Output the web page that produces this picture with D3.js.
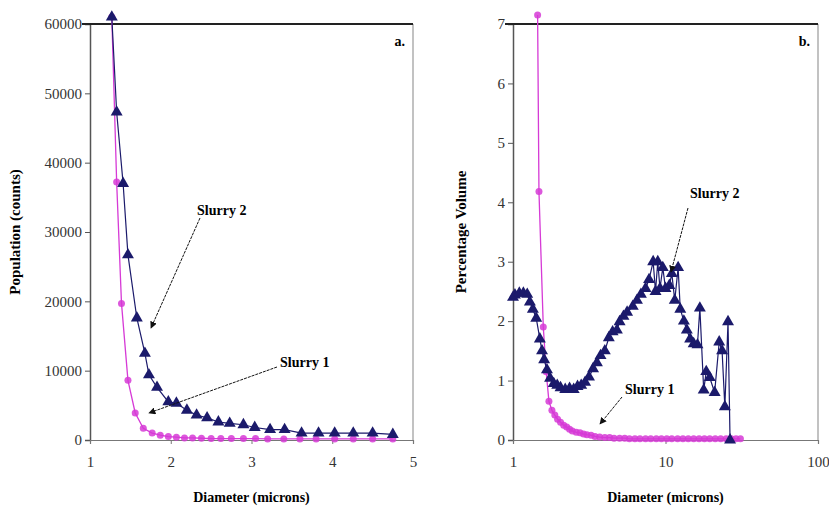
<!DOCTYPE html>
<html>
<head>
<meta charset="utf-8">
<script src="https://cdn.jsdelivr.net/npm/d3@7"></script>
<style>
  body { margin: 0; background: #fff; }
  text { font-family: "Liberation Serif", "DejaVu Serif", serif; }
</style>
</head>
<body>
<div id="chart-area"></div>
<script>
// panel a: population counts vs diameter (linear)
const popSlurry2X = [1.27, 1.33, 1.41, 1.47, 1.58, 1.68, 1.73, 1.83, 1.97, 2.07, 2.2, 2.32, 2.45, 2.59, 2.73, 2.9, 3.04, 3.23, 3.41, 3.62, 3.83, 4.03, 4.26, 4.5, 4.75]
const popSlurry2Y = [61000, 47300, 37000, 26700, 17600, 12500, 9400, 7600, 5500, 5300, 4300, 3600, 3200, 2600, 2400, 2200, 1800, 1500, 1500, 1000, 1000, 1000, 1000, 1000, 800]
const popSlurry1X = [1.27, 1.33, 1.39, 1.47, 1.56, 1.66, 1.77, 1.87, 1.97, 2.07, 2.17, 2.27, 2.38, 2.5, 2.62, 2.75, 2.9, 3.05, 3.2, 3.4, 3.6, 3.8, 4.03, 4.26, 4.5, 4.75]
const popSlurry1Y = [61000, 37200, 19700, 8600, 3900, 1700, 1000, 700, 500, 400, 300, 300, 250, 200, 200, 200, 200, 200, 150, 150, 150, 150, 150, 150, 150, 150]
const popTicksY = [0, 10000, 20000, 30000, 40000, 50000, 60000]
const popTicksX = [1, 2, 3, 4, 5]

// panel b: percentage volume vs diameter (log)
const volSlurry2X = [1.0, 1.03, 1.1, 1.17, 1.24, 1.29, 1.35, 1.42, 1.5, 1.55, 1.6, 1.67, 1.75, 1.85, 1.95, 2.05, 2.2, 2.35, 2.5, 2.65, 2.8, 2.97, 3.15, 3.35, 3.55, 3.75, 4.0, 4.25, 4.5, 4.8, 5.0, 5.3, 5.6, 6.1, 6.5, 6.9, 7.4, 7.8, 8.3, 8.6, 8.9, 9.2, 9.6, 10.0, 10.6, 11.0, 11.5, 12.1, 12.5, 13.2, 13.8, 14.5, 15.3, 16.2, 16.8, 17.8, 18.5, 19.5, 21, 22.5, 23.5, 24.5, 25.7, 26.5]
const volSlurry2Y = [2.4, 2.44, 2.47, 2.47, 2.45, 2.32, 2.2, 2.05, 1.7, 1.5, 1.35, 1.18, 1.04, 0.95, 0.92, 0.88, 0.85, 0.87, 0.85, 0.9, 0.92, 0.97, 1.06, 1.2, 1.3, 1.42, 1.5, 1.72, 1.82, 1.85, 1.99, 2.08, 2.15, 2.25, 2.35, 2.45, 2.55, 2.7, 3.0, 2.5, 3.0, 2.55, 2.9, 2.55, 2.6, 2.8, 2.35, 2.9, 2.2, 2.0, 1.85, 1.7, 1.62, 1.6, 2.22, 0.84, 1.15, 1.05, 0.8, 1.65, 1.5, 0.56, 1.99, 0.0]
const volSlurry1X = [1.45, 1.48, 1.58, 1.65, 1.72, 1.8, 1.88, 1.96, 2.05, 2.15, 2.25, 2.35, 2.45, 2.6, 2.75, 2.9, 3.05, 3.25, 3.45, 3.7, 4.0, 4.3, 4.6, 5.0, 5.4, 5.8, 6.3, 6.8, 7.4, 8.0, 8.7, 9.4, 10.2, 11, 12, 13, 14.1, 15.3, 16.6, 18, 19.5, 21.2, 23, 25, 27, 29, 31]
const volSlurry1Y = [7.15, 4.18, 1.9, 1.15, 0.65, 0.5, 0.42, 0.35, 0.3, 0.25, 0.22, 0.18, 0.15, 0.13, 0.12, 0.1, 0.09, 0.08, 0.06, 0.05, 0.04, 0.04, 0.03, 0.03, 0.03, 0.02, 0.02, 0.02, 0.02, 0.02, 0.02, 0.02, 0.02, 0.02, 0.02, 0.02, 0.02, 0.02, 0.02, 0.02, 0.02, 0.02, 0.02, 0.02, 0.02, 0.02, 0.02]
const volTicksY = [0, 1, 2, 3, 4, 5, 6, 7]
const volTicksX = [1, 10, 100]

const NAVY = "#1b1a6b"
const PINK = "#d63ad6"

const svg = d3.select("#chart-area").append("svg")
  .attr("width", 829)
  .attr("height", 507)

// arrow head for the callouts
svg.append("defs").append("marker")
  .attr("id", "arrow")
  .attr("viewBox", "0 0 10 10")
  .attr("refX", 9).attr("refY", 5)
  .attr("markerWidth", 7).attr("markerHeight", 7)
  .attr("orient", "auto")
  .append("path")
  .attr("d", "M0,0 L10,5 L0,10 z")
  .attr("fill", "#111")

function zip(xs, ys) {
  return xs.map((x, i) => ({x: x, y: ys[i]}))
}

function drawPanel(opt) {
  const g = svg.append("g")
  const x = opt.x, y = opt.y
  const [x0, x1] = x.range()
  const [yb, yt] = y.range()

  // frame: right border, top line
  g.append("line")
    .attr("x1", x1).attr("x2", x1).attr("y1", yt).attr("y2", yb)
    .attr("stroke", "#999").attr("stroke-width", 1.2)

  // y axis
  const yAxis = g.append("g")
    .attr("transform", `translate(${x0},0)`)
    .call(d3.axisLeft(y).tickValues(opt.yTicks).tickSize(5).tickPadding(3).tickFormat(d3.format("d")))
  yAxis.select(".domain").attr("stroke", "#555").attr("stroke-width", 1.5)
  yAxis.selectAll(".tick line").attr("stroke", "#555")
  yAxis.selectAll("text").attr("font-size", "15px").attr("fill", "#333")

  // x axis
  const xAxis = g.append("g")
    .attr("transform", `translate(0,${yb})`)
    .call(d3.axisBottom(x).tickValues(opt.xTicks).tickSize(4).tickPadding(12).tickFormat(d3.format("d")))
  xAxis.select(".domain").attr("stroke", "#777").attr("stroke-width", 1.2)
  xAxis.selectAll(".tick line").attr("stroke", "#777")
  xAxis.selectAll("text").attr("font-size", "15px").attr("fill", "#333")

  g.append("line")
    .attr("x1", x0 - 8).attr("x2", x1).attr("y1", yt).attr("y2", yt)
    .attr("stroke", "#222").attr("stroke-width", 2.2)

  const line = d3.line().x(d => x(d.x)).y(d => y(d.y))

  // slurry 1 (magenta circles)
  const s1 = zip(opt.s1x, opt.s1y)
  g.append("path").datum(s1)
    .attr("d", line).attr("fill", "none")
    .attr("stroke", PINK).attr("stroke-width", 1.3)
  g.selectAll(".s1").data(s1).enter().append("circle")
    .attr("cx", d => x(d.x)).attr("cy", d => y(d.y))
    .attr("r", 3.5).attr("fill", PINK).attr("opacity", 0.85)

  // slurry 2 (navy triangles)
  const s2 = zip(opt.s2x, opt.s2y)
  g.append("path").datum(s2)
    .attr("d", line).attr("fill", "none")
    .attr("stroke", NAVY).attr("stroke-width", 1.2)
  g.selectAll(".s2").data(s2).enter().append("path")
    .attr("transform", d => `translate(${x(d.x)},${y(d.y)})`)
    .attr("d", d3.symbol(d3.symbolTriangle, 62))
    .attr("fill", NAVY)

  // panel letter
  g.append("text")
    .attr("x", x1 - 8).attr("y", yt + 22)
    .attr("text-anchor", "end")
    .attr("font-size", "14px").attr("font-weight", "bold")
    .text(opt.letter)

  // axis titles
  g.append("text")
    .attr("x", (x0 + x1) / 2).attr("y", 502)
    .attr("text-anchor", "middle")
    .attr("font-size", "14px").attr("font-weight", "bold")
    .text("Diameter (microns)")

  g.append("text")
    .attr("transform", `translate(${opt.yLabelX},232) rotate(-90)`)
    .attr("text-anchor", "middle")
    .attr("font-size", "15px").attr("font-weight", "bold")
    .text(opt.yLabel)

  // callouts
  opt.notes.forEach(n => {
    g.append("text")
      .attr("x", n.tx).attr("y", n.ty)
      .attr("font-size", "14px").attr("font-weight", "bold")
      .text(n.label)
    g.append("line")
      .attr("x1", n.ax1).attr("y1", n.ay1)
      .attr("x2", n.ax2).attr("y2", n.ay2)
      .attr("stroke", "#111").attr("stroke-width", 1)
      .attr("stroke-dasharray", "3,1")
      .attr("marker-end", "url(#arrow)")
  })
}

drawPanel({
  x: d3.scaleLinear().domain([1, 5]).range([90, 413]),
  y: d3.scaleLinear().domain([0, 60000]).range([440, 24]),
  xTicks: popTicksX, yTicks: popTicksY,
  s1x: popSlurry1X, s1y: popSlurry1Y,
  s2x: popSlurry2X, s2y: popSlurry2Y,
  letter: "a.",
  yLabel: "Population (counts)", yLabelX: 20,
  notes: [
    {label: "Slurry 2", tx: 197, ty: 215, ax1: 200, ay1: 218, ax2: 151, ay2: 328},
    {label: "Slurry 1", tx: 280, ty: 367, ax1: 277, ay1: 367, ax2: 149, ay2: 413}
  ]
})

drawPanel({
  x: d3.scaleLog().domain([1, 100]).range([513, 818]),
  y: d3.scaleLinear().domain([0, 7]).range([440, 24]),
  xTicks: volTicksX, yTicks: volTicksY,
  s1x: volSlurry1X, s1y: volSlurry1Y,
  s2x: volSlurry2X, s2y: volSlurry2Y,
  letter: "b.",
  yLabel: "Percentage Volume", yLabelX: 466,
  notes: [
    {label: "Slurry 2", tx: 690, ty: 198, ax1: 688, ay1: 208, ax2: 671, ay2: 272},
    {label: "Slurry 1", tx: 625, ty: 394, ax1: 622, ay1: 397, ax2: 600, ay2: 424}
  ]
})
</script>
</body>
</html>
